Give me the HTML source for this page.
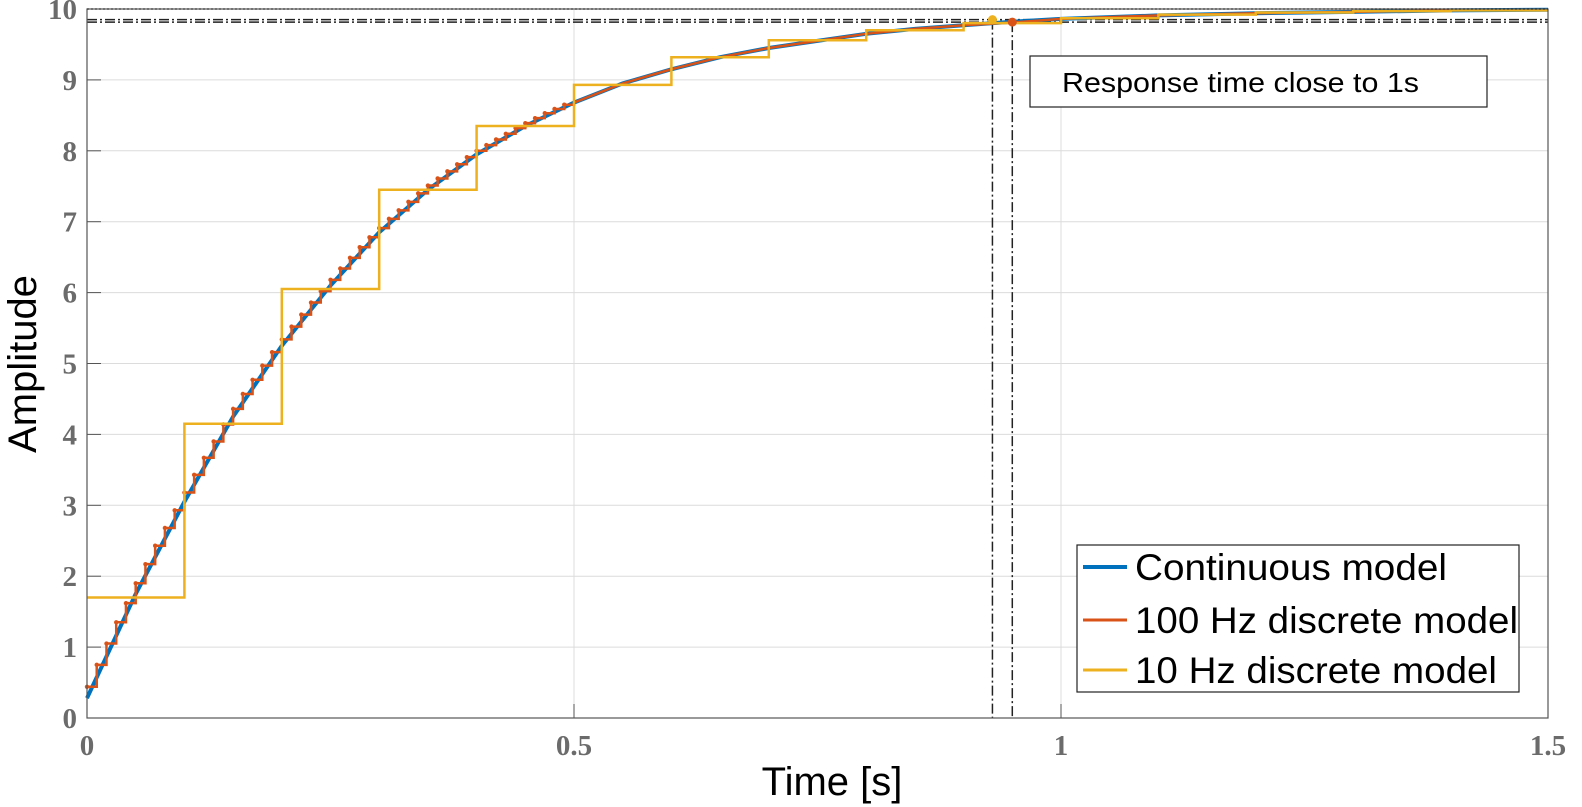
<!DOCTYPE html>
<html><head><meta charset="utf-8"><style>
html,body{margin:0;padding:0;background:#fff;width:1582px;height:807px;overflow:hidden}
svg{display:block;position:absolute;left:0;top:0}
.tk{font-family:"Liberation Serif",serif;font-weight:bold;font-size:29px;fill:#6b6b6b}
</style></head><body>
<svg id="chart" width="1582" height="807" viewBox="0 0 1582 807" xmlns="http://www.w3.org/2000/svg">
<g id="grid"></g>
<g id="series"></g>
<g id="axes"></g>
<text transform="translate(36,364) rotate(-90)" text-anchor="middle" font-family="Liberation Sans, sans-serif" font-size="40">Amplitude</text>
<text x="832" y="795" text-anchor="middle" font-family="Liberation Sans, sans-serif" font-size="40">Time [s]</text>
<g>
<rect x="1030" y="56" width="457" height="51" fill="#fff" stroke="#222" stroke-width="1.2"/>
<text x="1062" y="92" font-family="Liberation Sans, sans-serif" font-size="28" textLength="357" lengthAdjust="spacingAndGlyphs">Response time close to 1s</text>
</g>
<g>
<rect x="1077" y="545" width="442" height="147" fill="#fff" stroke="#222" stroke-width="1.2"/>
<g><line x1="1083" y1="567" x2="1127" y2="567" stroke="#0072bd" stroke-width="4"/><text x="1135" y="580" font-family="Liberation Sans, sans-serif" font-size="37" textLength="312" lengthAdjust="spacingAndGlyphs">Continuous model</text></g>
<g><line x1="1083" y1="620" x2="1127" y2="620" stroke="#d95319" stroke-width="3"/><text x="1135" y="633" font-family="Liberation Sans, sans-serif" font-size="37" textLength="383" lengthAdjust="spacingAndGlyphs">100 Hz discrete model</text></g>
<g><line x1="1083" y1="670" x2="1127" y2="670" stroke="#edb120" stroke-width="3"/><text x="1135" y="683" font-family="Liberation Sans, sans-serif" font-size="37" textLength="362" lengthAdjust="spacingAndGlyphs">10 Hz discrete model</text></g>
</g>
</svg>
<script>
const contT=[0,0.05,0.1,0.15,0.2,0.25,0.3,0.35,0.4,0.45,0.5,0.55,0.6,0.65,0.7,0.75,0.8,0.85,0.9,0.95,1.0,1.1,1.2,1.3,1.4,1.5];
const contY=[0.28,1.75,3.05,4.25,5.25,6.1,6.85,7.45,7.95,8.35,8.68,8.95,9.15,9.32,9.45,9.55,9.65,9.72,9.77,9.82,9.86,9.91,9.94,9.96,9.98,9.99];
const red100=[0.44,0.75,1.05,1.35,1.62,1.9,2.17,2.43,2.68,2.93,3.18,3.43,3.67,3.9,4.14,4.36,4.57,4.77,4.97,5.16,5.34,5.52,5.69,5.86,6.02,6.18,6.34,6.49,6.64,6.78,6.91,7.04,7.16,7.28,7.4,7.51,7.61,7.71,7.81,7.91,8.0,8.08,8.16,8.24,8.32,8.39,8.46,8.53,8.59,8.65];
const redTailT=[0.5,0.55,0.6,0.65,0.7,0.75,0.8,0.85,0.9,0.95,1.0,1.1,1.2,1.3,1.4,1.5];
const redTailY=[8.68,8.95,9.15,9.32,9.45,9.55,9.65,9.72,9.77,9.81,9.86,9.91,9.94,9.96,9.98,9.99];
const yel10=[1.7,4.15,6.05,7.45,8.35,8.93,9.32,9.56,9.7,9.8,9.87,9.92,9.95,9.97,9.98];
const xTicks=[0,0.5,1,1.5];
const xTickLabels=["0","0.5","1","1.5"];
const yTicks=[0,1,2,3,4,5,6,7,8,9,10];
const markers=[{t:0.9296,y:9.85,c:"#edb120"},{t:0.95,y:9.815,c:"#d95319"}];
const X0=87,X1=1548,Y0=718,Y1=9;
const sx=t=>X0+(t/1.5)*(X1-X0);
const sy=v=>Y0-(v/10)*(Y0-Y1);
const NS="http://www.w3.org/2000/svg";
function mk(tag,attrs,parent){const e=document.createElementNS(NS,tag);for(const k in attrs)e.setAttribute(k,attrs[k]);parent.appendChild(e);return e;}
const grid=document.getElementById('grid'),ser=document.getElementById('series'),ax=document.getElementById('axes');
xTicks.forEach((t,i)=>{if(i>0){const l=mk('line',{x1:sx(t),x2:sx(t),y1:Y1,y2:Y0,stroke:'#dcdcdc','stroke-width':1},grid);}
 const tx=mk('text',{x:sx(t),y:Y0+37,'text-anchor':'middle',class:'tk'},ax);tx.textContent=xTickLabels[i];
 mk('line',{x1:sx(t),x2:sx(t),y1:Y0,y2:Y0-14,stroke:'#555'},ax);});
yTicks.forEach(v=>{if(v>0){const l=mk('line',{x1:X0,x2:X1,y1:sy(v),y2:sy(v),stroke:'#dcdcdc','stroke-width':1},grid);}
 const tx=mk('text',{x:X0-10,y:sy(v)+10,'text-anchor':'end',class:'tk'},ax);tx.textContent=String(v);
 mk('line',{x1:X0,x2:X0+14,y1:sy(v),y2:sy(v),stroke:'#555'},ax);});
markers.forEach(m=>{
 const h=mk('line',{x1:X0,x2:X1,y1:sy(m.y),y2:sy(m.y),stroke:'#222','stroke-width':1.5,'stroke-dasharray':'10,3,2,3'},grid);
 const v=mk('line',{x1:sx(m.t),x2:sx(m.t),y1:sy(m.y),y2:Y0,stroke:'#222','stroke-width':1.5,'stroke-dasharray':'10,3,2,3'},grid);});
let d=contT.map((t,i)=>(i?'L':'M')+sx(t)+','+sy(contY[i])).join('');
let p=mk('path',{d:d,fill:'none',stroke:'#0072bd','stroke-width':4},ser);

d='';red100.forEach((v,i)=>{const t=i*0.01;d+=(i?'L':'M')+sx(t)+','+sy(v)+'L'+sx(t+0.01)+','+sy(v);});
redTailT.forEach((t,i)=>{d+='L'+sx(t)+','+sy(redTailY[i]);});
p=mk('path',{d:d,fill:'none',stroke:'#d95319','stroke-width':2.5},ser);

red100.forEach((v,i)=>{const c=mk('circle',{cx:sx(i*0.01),cy:sy(v),r:2.2,fill:'#d95319'},ser);});
d='';yel10.forEach((v,i)=>{const t=i*0.1;d+=(i?'L':'M')+sx(t)+','+sy(v)+'L'+sx(t+0.1)+','+sy(v);});
p=mk('path',{d:d,fill:'none',stroke:'#edb120','stroke-width':2.5},ser);

markers.forEach(m=>{const c=mk('circle',{cx:sx(m.t),cy:sy(m.y),r:4.5,fill:m.c},ser);});
let b=mk('rect',{x:X0,y:Y1,width:X1-X0,height:Y0-Y1,fill:'none',stroke:'#555','stroke-width':1.2},ax);

mk('line',{x1:X0,x2:X1,y1:Y1,y2:Y1,stroke:'#333','stroke-width':1.2,'stroke-dasharray':'2,2'},ax);
</script>
</body></html>
